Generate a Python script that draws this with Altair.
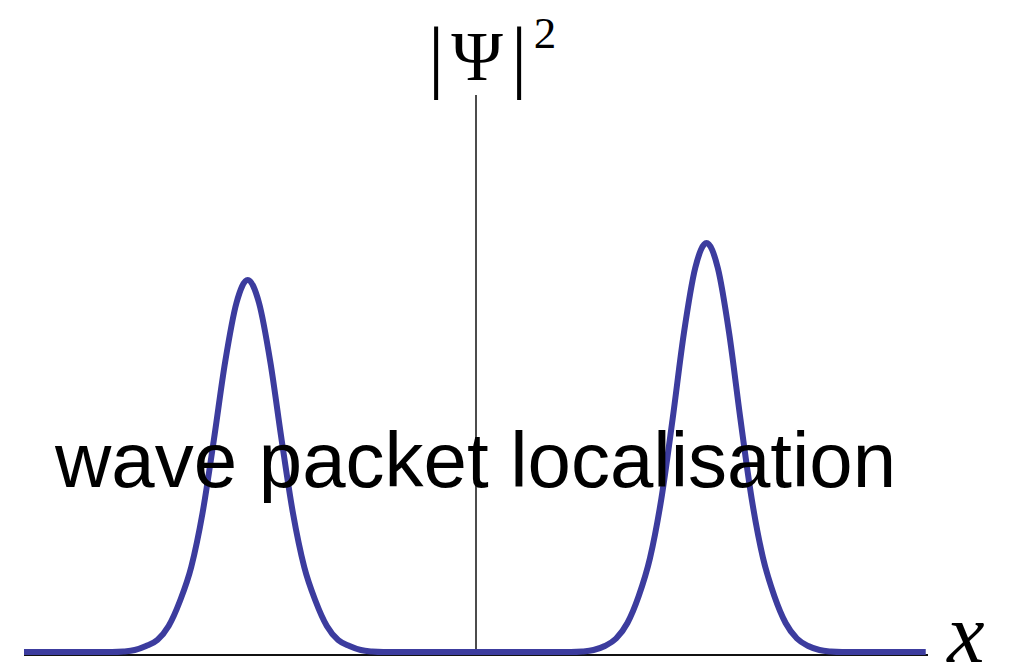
import altair as alt
import pandas as pd

# curve samples (x in arbitrary units, y = |psi|^2)
curve_x = [-10.0,
           -8.05, -7.8, -7.55, -7.3, -7.05, -6.8, -6.55, -6.3, -6.05, -5.8, -5.55, -5.3,
           -5.05, -4.8, -4.55, -4.3, -4.05, -3.8, -3.55, -3.3, -3.05, -2.8, -2.55, -2.3, -2.05,
           0.0,
           2.1, 2.35, 2.6, 2.85, 3.1, 3.35, 3.6, 3.85, 4.1, 4.35, 4.6, 4.85,
           5.1, 5.35, 5.6, 5.85, 6.1, 6.35, 6.6, 6.85, 7.1, 7.35, 7.6, 7.85, 8.1,
           9.95]
curve_y = [0.03,
           0.03, 0.035, 0.05, 0.09, 0.15, 0.29, 0.54, 0.88, 1.42, 2.15, 2.93, 3.52,
           3.75, 3.52, 2.93, 2.15, 1.42, 0.88, 0.54, 0.29, 0.15, 0.09, 0.05, 0.035, 0.03,
           0.03,
           0.03, 0.035, 0.05, 0.09, 0.165, 0.32, 0.59, 0.97, 1.56, 2.36, 3.22, 3.87,
           4.12, 3.87, 3.22, 2.36, 1.56, 0.97, 0.59, 0.32, 0.165, 0.09, 0.05, 0.035, 0.03,
           0.03]

x_range = [-10.0, 10.0]
y_range = [0.0, 5.6]

title_text = "wave packet localisation"
bar_text = "|"
psi_text = "Ψ"
sup_text = "2"
x_label = "x"

df = pd.DataFrame({"x": curve_x, "y": curve_y})

xs = alt.Scale(domain=x_range, nice=False, zero=False)
ys = alt.Scale(domain=y_range, nice=False, zero=False)

xaxis_line = alt.Chart(pd.DataFrame({"x": [x_range[0]], "x2": [x_range[1]], "y": [0.0]})).mark_rule(
    color="#111111", strokeWidth=2
).encode(
    x=alt.X("x:Q", scale=xs, axis=None),
    x2="x2:Q",
    y=alt.Y("y:Q", scale=ys, axis=None),
)

yaxis_line = alt.Chart(pd.DataFrame({"x": [0.0], "y": [y_range[0]], "y2": [y_range[1]]})).mark_rule(
    color="#111111", strokeWidth=1.5
).encode(
    x=alt.X("x:Q", scale=xs, axis=None),
    y=alt.Y("y:Q", scale=ys, axis=None),
    y2="y2:Q",
)

line = alt.Chart(df).mark_line(color="#3c3c9e", strokeWidth=6, interpolate="monotone", clip=False).encode(
    x=alt.X("x:Q", scale=xs, axis=None),
    y=alt.Y("y:Q", scale=ys, axis=None),
)

overlay = alt.Chart(pd.DataFrame({"t": [title_text]})).mark_text(
    font="Liberation Sans", fontSize=78, align="left", baseline="alphabetic", color="#000000"
).encode(x=alt.value(31), y=alt.value(392), text="t:N")


def serif_text(txt, size, px, py, italic=False):
    kw = dict(font="Liberation Serif", fontSize=size, align="center", baseline="alphabetic",
              color="#000000")
    if italic:
        kw["fontStyle"] = "italic"
    return alt.Chart(pd.DataFrame({"t": [txt]})).mark_text(**kw).encode(
        x=alt.value(px), y=alt.value(py), text="t:N")


bar_l = serif_text(bar_text, 81, 412, -12)
psi = serif_text(psi_text, 70, 453, -15)
bar_r = serif_text(bar_text, 81, 495, -12)
sup = serif_text(sup_text, 45, 521, -47)
xlab = serif_text(x_label, 84, 942, 567, italic=True)

chart = alt.layer(xaxis_line, yaxis_line, line, overlay, bar_l, psi, bar_r, sup, xlab).properties(
    width=904, height=560,
    autosize=alt.AutoSizeParams(type="none"),
    padding={"left": 16, "top": 87, "right": 75, "bottom": 13},
).configure_view(stroke=None)

chart.save("out.html", embed_options={"renderer": "svg", "actions": False})
